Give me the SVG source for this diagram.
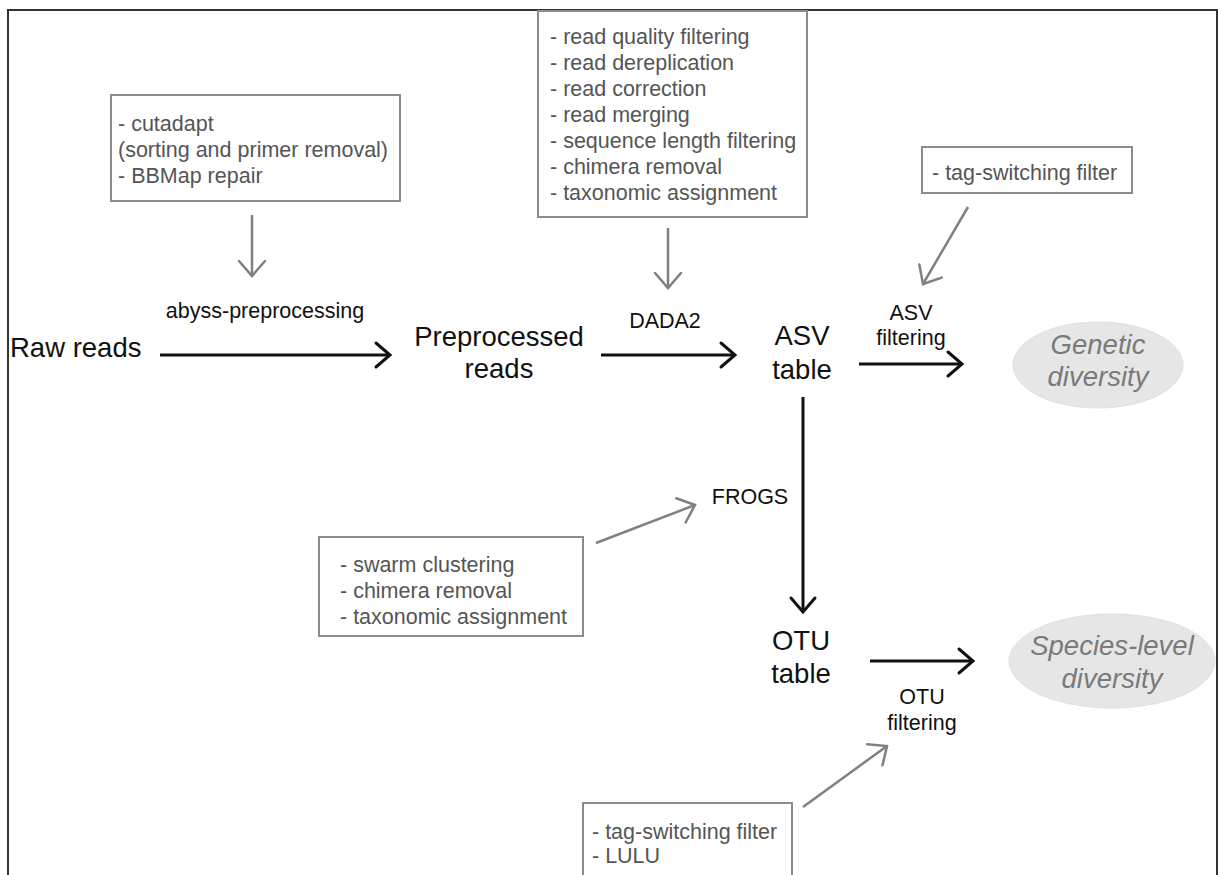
<svg xmlns="http://www.w3.org/2000/svg" width="1218" height="875" viewBox="0 0 1218 875">
  <style>
    .frame { fill: none; stroke: #333; stroke-width: 2; }
    .box { fill: #fff; stroke: #8c8c8c; stroke-width: 2; }
    .boxtxt { font-family: "Liberation Sans", Arial, sans-serif; font-size: 21.5px; fill: #555; }
    .lbl { font-family: "Liberation Sans", Arial, sans-serif; font-size: 21.5px; fill: #111; text-anchor: middle; }
    .main { font-family: "Liberation Sans", Arial, sans-serif; font-size: 27.5px; fill: #111; text-anchor: middle; }
    .ell { fill: #e6e6e6; stroke: #e0e0e0; stroke-width: 1; }
    .elltxt { font-family: "Liberation Sans", Arial, sans-serif; font-size: 27.5px; font-style: italic; fill: #7a7a7a; text-anchor: middle; }
    .blk { fill: none; stroke: #111; stroke-width: 3; marker-end: url(#headB); }
    .gry { fill: none; stroke: #808080; stroke-width: 2.5; marker-end: url(#headG); }
  </style>
  <defs>
    <marker id="headB" markerUnits="userSpaceOnUse" viewBox="-20 -16 24 32" refX="0" refY="0" markerWidth="24" markerHeight="32" orient="auto" overflow="visible">
      <path d="M -14 -12 L 0 0 L -14 12" fill="none" stroke="#111" stroke-width="3" stroke-linejoin="miter" stroke-linecap="round"/>
    </marker>
    <marker id="headG" markerUnits="userSpaceOnUse" viewBox="-20 -16 24 32" refX="0" refY="0" markerWidth="24" markerHeight="32" orient="auto" overflow="visible">
      <path d="M -15 -13 L 0 0 L -15 13" fill="none" stroke="#808080" stroke-width="2.5" stroke-linejoin="miter" stroke-linecap="round"/>
    </marker>
  </defs>

  <rect class="frame" x="8" y="10" width="1209" height="880"/>

  <g id="connectors">
    <line class="blk" x1="160" y1="355" x2="390" y2="355"/>
    <line class="blk" x1="601" y1="355" x2="735" y2="355"/>
    <line class="blk" x1="859" y1="364" x2="962" y2="364"/>
    <line class="blk" x1="803" y1="397" x2="803" y2="612"/>
    <line class="blk" x1="870" y1="661" x2="973" y2="661"/>
    <line class="gry" x1="252" y1="215" x2="252" y2="276"/>
    <line class="gry" x1="668" y1="228" x2="668" y2="288"/>
    <line class="gry" x1="968" y1="207" x2="923" y2="284"/>
    <line class="gry" x1="596" y1="543" x2="695" y2="505"/>
    <line class="gry" x1="803" y1="807" x2="887" y2="746"/>
    <text class="lbl" x="265" y="318">abyss-preprocessing</text>
    <text class="lbl" x="665" y="328">DADA2</text>
    <text class="lbl" x="911" y="320">ASV</text>
    <text class="lbl" x="911" y="345">filtering</text>
    <text class="lbl" x="750" y="504">FROGS</text>
    <text class="lbl" x="922" y="704">OTU</text>
    <text class="lbl" x="922" y="730">filtering</text>
  </g>

  <g id="box-cutadapt">
    <rect class="box" x="111" y="95" width="289" height="106"/>
    <text class="boxtxt" x="118" y="131">- cutadapt</text>
    <text class="boxtxt" x="118" y="157">(sorting and primer removal)</text>
    <text class="boxtxt" x="118" y="183">- BBMap repair</text>
  </g>

  <g id="box-dada2">
    <rect class="box" x="538" y="11" width="269" height="206"/>
    <text class="boxtxt" x="550" y="44">- read quality filtering</text>
    <text class="boxtxt" x="550" y="70">- read dereplication</text>
    <text class="boxtxt" x="550" y="96">- read correction</text>
    <text class="boxtxt" x="550" y="122">- read merging</text>
    <text class="boxtxt" x="550" y="148">- sequence length filtering</text>
    <text class="boxtxt" x="550" y="174">- chimera removal</text>
    <text class="boxtxt" x="550" y="200">- taxonomic assignment</text>
  </g>

  <g id="box-tag-asv">
    <rect class="box" x="922" y="147" width="210" height="46"/>
    <text class="boxtxt" x="932" y="180">- tag-switching filter</text>
  </g>

  <g id="box-frogs">
    <rect class="box" x="319" y="537" width="264" height="99"/>
    <text class="boxtxt" x="340" y="572">- swarm clustering</text>
    <text class="boxtxt" x="340" y="598">- chimera removal</text>
    <text class="boxtxt" x="340" y="624">- taxonomic assignment</text>
  </g>

  <g id="box-tag-otu">
    <rect class="box" x="583" y="803" width="209" height="90"/>
    <text class="boxtxt" x="592" y="839">- tag-switching filter</text>
    <text class="boxtxt" x="592" y="863">- LULU</text>
  </g>

  <g id="raw-reads">
    <text class="main" x="10" y="357" style="text-anchor:start">Raw reads</text>
  </g>

  <g id="preprocessed-reads">
    <text class="main" x="499" y="346">Preprocessed</text>
    <text class="main" x="499" y="378">reads</text>
  </g>

  <g id="asv-table">
    <text class="main" x="802" y="345">ASV</text>
    <text class="main" x="802" y="379">table</text>
  </g>

  <g id="otu-table">
    <text class="main" x="801" y="650">OTU</text>
    <text class="main" x="801" y="683">table</text>
  </g>

  <g id="genetic-diversity">
    <ellipse class="ell" cx="1098" cy="365" rx="85" ry="43"/>
    <text class="elltxt" x="1098" y="354">Genetic</text>
    <text class="elltxt" x="1098" y="386">diversity</text>
  </g>

  <g id="species-diversity">
    <ellipse class="ell" cx="1112" cy="661" rx="103" ry="47"/>
    <text class="elltxt" x="1112" y="655">Species-level</text>
    <text class="elltxt" x="1112" y="688">diversity</text>
  </g>
</svg>
